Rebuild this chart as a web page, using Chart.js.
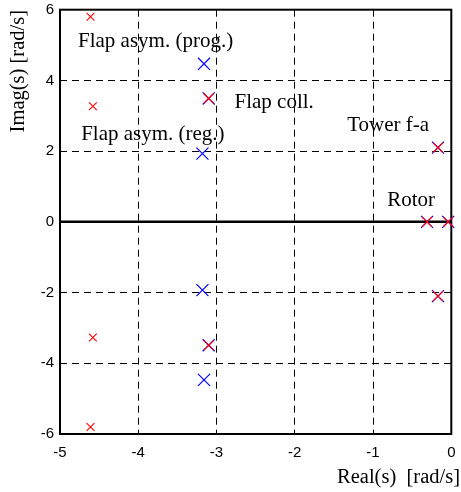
<!DOCTYPE html>
<html><head><meta charset="utf-8">
<script src="https://cdn.jsdelivr.net/npm/chart.js@4.4.1/dist/chart.umd.min.js"></script>
<style>html,body{margin:0;padding:0;background:#fff}#wrap{width:461px;height:492px}</style>
</head><body><div id="wrap"><canvas id="c" width="461" height="492"></canvas></div>
<script>
// Poles, model A (blue)
const blueReal = [-3.16, -3.10, -3.18, -3.18, -3.10, -3.16, -0.17, -0.17, -0.31, -0.04];
const blueImag = [ 4.47,  3.49,  1.93, -1.93, -3.49, -4.47,  2.10, -2.10,  0.00,  0.00];
// Poles, model B (red) coinciding with model A
const redReal = [-3.10, -3.10, -0.17, -0.17, -0.31, -0.04];
const redImag = [ 3.49, -3.49,  2.10, -2.10,  0.00,  0.00];
// Poles, model B (red) flap asymmetric
const redAsymReal = [-4.61, -4.58, -4.58, -4.61];
const redAsymImag = [ 5.80,  3.27, -3.27, -5.80];
const xTicks = [-5, -4, -3, -2, -1, 0];
const yTicks = [-6, -4, -2, 0, 2, 4, 6];
const labels = [
  {text: 'Flap asym. (prog.)', x: -4.77, y: 5.09},
  {text: 'Flap asym. (reg.)',  x: -4.73, y: 2.48},
  {text: 'Flap coll.',         x: -2.77, y: 3.38},
  {text: 'Tower f-a',          x: -1.33, y: 2.73},
  {text: 'Rotor',              x: -0.82, y: 0.60}
];

const pts = (xs, ys) => xs.map((x, i) => ({x, y: ys[i]}));
const serif = '"Liberation Serif", "Times New Roman", serif';
const sans = '"Liberation Sans", Arial, sans-serif';

const decor = {
  id: 'decor',
  beforeDatasetsDraw(chart) {
    const {ctx, chartArea: a, scales} = chart;
    ctx.save();
    ctx.strokeStyle = '#000';
    ctx.lineWidth = 2.5;
    const y0 = scales.y.getPixelForValue(0);
    ctx.beginPath(); ctx.moveTo(a.left, y0); ctx.lineTo(a.right, y0); ctx.stroke();
    ctx.lineWidth = 2;
    ctx.strokeRect(a.left, a.top, a.right - a.left, a.bottom - a.top);
    ctx.restore();
  },
  afterDatasetsDraw(chart) {
    const {ctx, scales} = chart;
    ctx.save();
    ctx.fillStyle = '#000';
    ctx.font = '21px ' + serif;
    ctx.textAlign = 'left';
    ctx.textBaseline = 'middle';
    labels.forEach(l => ctx.fillText(l.text, scales.x.getPixelForValue(l.x), scales.y.getPixelForValue(l.y)));
    ctx.font = '20.5px ' + serif;
    ctx.textAlign = 'right';
    ctx.fillText('Real(s)  [rad/s]', chart.width - 1, 478);
    ctx.translate(19, 10);
    ctx.rotate(-Math.PI / 2);
    ctx.fillText('Imag(s) [rad/s]', 0, 0);
    ctx.restore();
  }
};

const edge = (ctx, vals) => {
  const v = ctx.tick ? ctx.tick.value : null;
  return (v === vals[0] || v === vals[vals.length - 1] || v === 0) ? 'rgba(0,0,0,0)' : '#000';
};

new Chart(document.getElementById('c'), {
  type: 'scatter',
  data: {
    datasets: [
      {data: pts(redReal, redImag), pointStyle: 'crossRot', radius: 7, borderColor: '#ff0000', borderWidth: 1.2, backgroundColor: '#ff0000'},
      {data: pts(redAsymReal, redAsymImag), pointStyle: 'crossRot', radius: 5.5, borderColor: '#ff0000', borderWidth: 1.1, backgroundColor: '#ff0000'},
      {data: pts(blueReal, blueImag), pointStyle: 'crossRot', radius: 8.5, borderColor: '#0000ff', borderWidth: 1.2, backgroundColor: '#0000ff'}
    ]
  },
  options: {
    responsive: false,
    animation: false,
    events: [],
    clip: false,
    layout: {padding: {top: 7, right: 9, left: 0, bottom: 0}},
    plugins: {legend: {display: false}, tooltip: {enabled: false}},
    scales: {
      x: {
        type: 'linear', min: -5, max: 0,
        afterBuildTicks: s => { s.ticks = xTicks.map(v => ({value: v})); },
        afterFit: s => { s.height = 58; s.paddingLeft = 0; s.paddingRight = 0; },
        ticks: {color: '#000', font: {family: sans, size: 15}, padding: 10},
        grid: {color: c => edge(c, xTicks), lineWidth: 1, drawTicks: false},
        border: {display: false, dash: [7, 5]}
      },
      y: {
        type: 'linear', min: -6, max: 6,
        afterBuildTicks: s => { s.ticks = yTicks.map(v => ({value: v})); },
        afterFit: s => { s.width = 60; s.paddingTop = 0; s.paddingBottom = 0; },
        ticks: {color: '#000', font: {family: sans, size: 15}, padding: 6},
        grid: {color: c => edge(c, yTicks), lineWidth: 1, drawTicks: false},
        border: {display: false, dash: [7, 5]}
      }
    }
  },
  plugins: [decor]
});
</script></body></html>
